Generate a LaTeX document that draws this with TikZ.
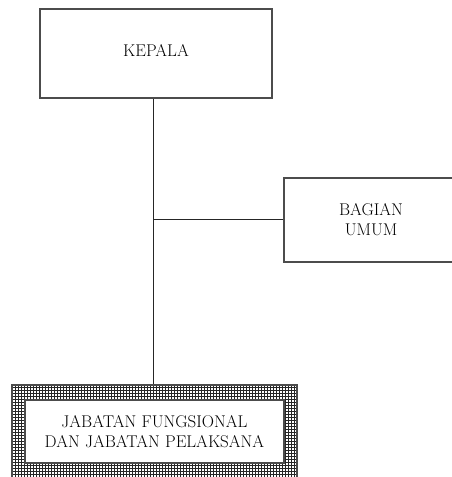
\documentclass[tikz,border=0pt]{standalone}
\usetikzlibrary{positioning,patterns}

\begin{document}
\begin{tikzpicture}[x=1pt,y=-1pt,
    unit/.style={draw=black!70, line width=1.1pt, fill=white, align=center,
      font=\fontsize{17}{20}\selectfont},
    frame/.style={draw=black!70, line width=1.1pt, pattern=grid, pattern color=black!85},
    link/.style={draw=black!85, line width=1pt}]
  \useasboundingbox (0,0) rectangle (451,477);

  \node[unit, minimum width=232pt, minimum height=89pt] (kepala) at (156,53.5)
    {\raisebox{6pt}{KEPALA}};
  \node[unit, minimum width=174pt, minimum height=84pt] (umum) at (371,220) {BAGIAN\\UMUM};
  \node[frame, minimum width=285pt, minimum height=93pt] (outer) at (154.5,431.5) {};
  \node[unit, minimum width=259pt, minimum height=63pt] (fungsional) at (outer.center)
    {JABATAN FUNGSIONAL\\DAN JABATAN PELAKSANA};

  \coordinate (joint) at (153,219);
  \draw[link] (kepala.south -| joint) -- (outer.north -| joint);
  \draw[link] (joint) -- (joint -| umum.west);
\end{tikzpicture}
\end{document}
